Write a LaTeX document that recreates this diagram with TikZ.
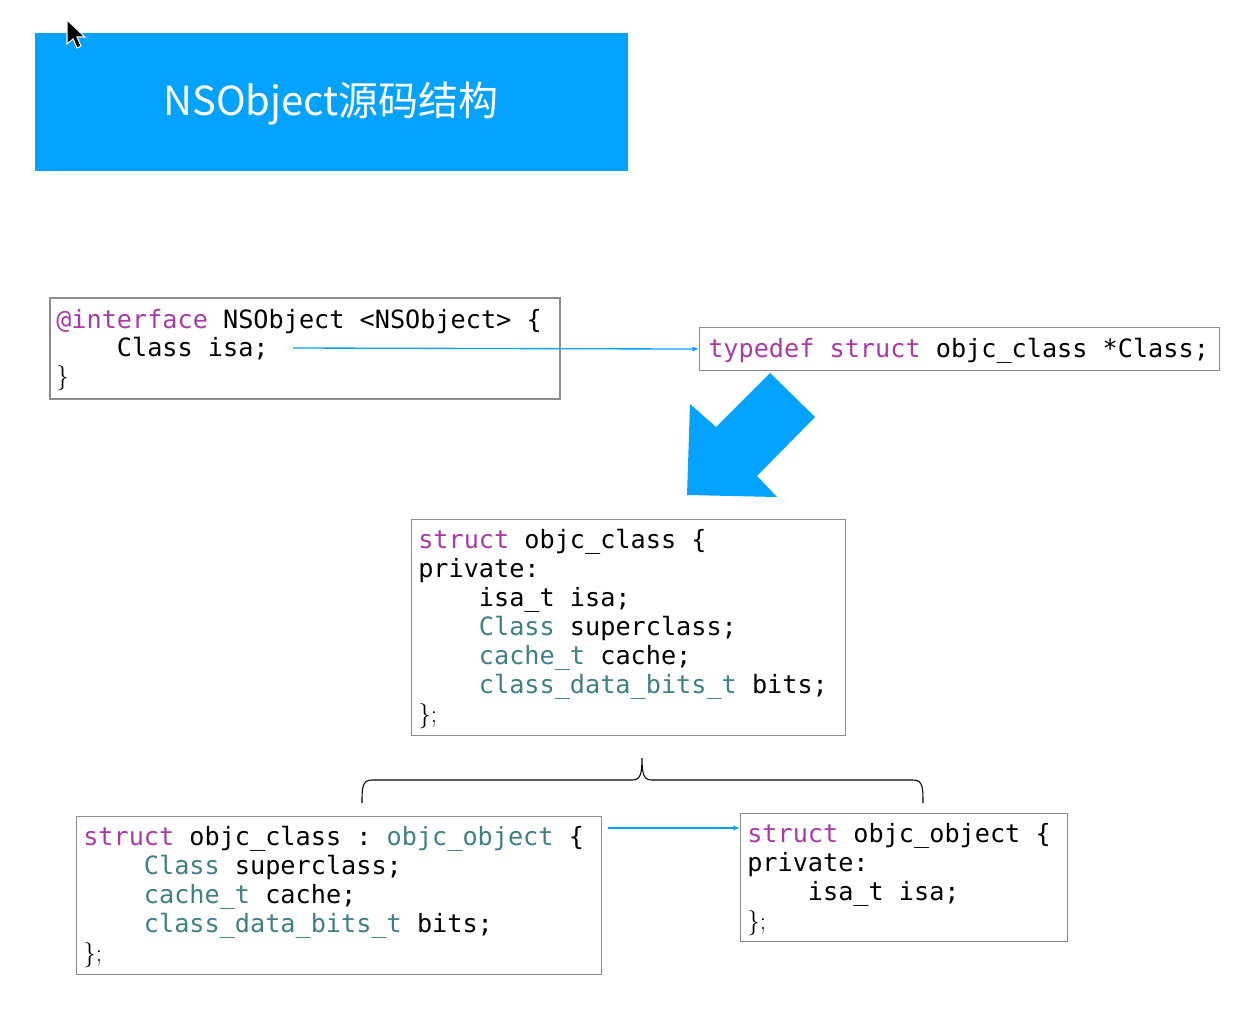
\documentclass[tikz,border=0pt]{standalone}
\usepackage{fontspec}
\setmonofont{DejaVu Sans Mono}
\newfontfamily\cjk{Noto Sans CJK SC}
\usetikzlibrary{arrows.meta}
\definecolor{kw}{HTML}{AA3AA5}
\definecolor{ty}{HTML}{3E8086}
\definecolor{ttl}{HTML}{03A2FE}
\newcommand{\kw}[1]{\textcolor{kw}{#1}}
\newcommand{\ty}[1]{\textcolor{ty}{#1}}
\newcommand{\ind}{\phantom{xxxx}}
\newcommand{\closeb}{{\rmfamily\};}}
\newcommand{\lines}[1]{\begin{tabular}[t]{@{}l@{}}#1\end{tabular}}
\begin{document}
\begin{tikzpicture}[x=0.75pt,y=-0.75pt,
  box/.style={draw=black!45,line width=0.8pt},
  code/.style={anchor=base west,inner sep=0pt,font=\ttfamily\fontsize{18.9}{21.8}\selectfont},
  conn/.style={draw=ttl,line width=1pt,-{Latex[length=5pt,width=4pt]}}]
\useasboundingbox (0,0) rectangle (1248,1010);
% title
\fill[ttl] (35,33) rectangle (628,171);
\node[text=white,font=\cjk\fontsize{30}{36}\selectfont] (title) at (331,104) {NSObject源码结构};
% cursor
\filldraw[fill=black,draw=white,line width=0.8pt] (67,20) -- (67,44) -- (73,39) -- (77,48) -- (81,46) -- (77,37) -- (85,37) -- cycle;
% boxes
\draw[box] (50,298) rectangle (560,399);
\node[box,minimum width=390pt,minimum height=32.25pt,anchor=north west] (B) at (699,327) {};
\node[box,minimum width=325.5pt,minimum height=162pt,anchor=north west] (C) at (411,519) {};
\node[box,minimum width=393.75pt,minimum height=118.5pt,anchor=north west] (D) at (76,816) {};
\node[box,minimum width=245.25pt,minimum height=96pt,anchor=north west] (E) at (740,813) {};
% texts
\node[code,font=\ttfamily\fontsize{18.9}{21.2}\selectfont] (tA) at (56,328) {\lines{\kw{@interface} NSObject <NSObject> \{\\\ind Class isa;\\\rmfamily\}}};
\node[code] (tB) at (708,357) {\kw{typedef} \kw{struct} objc\_class *Class;};
\node[code] (tC) at (418,548) {\lines{\kw{struct} objc\_class \{\\private:\\\ind isa\_t isa;\\\ind\ty{Class} superclass;\\\ind\ty{cache\_t} cache;\\\ind\ty{class\_data\_bits\_t} bits;\\\closeb}};
\node[code] (tD) at (83,845) {\lines{\kw{struct} objc\_class : \ty{objc\_object} \{\\\ind\ty{Class} superclass;\\\ind\ty{cache\_t} cache;\\\ind\ty{class\_data\_bits\_t} bits;\\\closeb}};
\node[code] (tE) at (747,842) {\lines{\kw{struct} objc\_object \{\\private:\\\ind isa\_t isa;\\\closeb}};
% connectors
\coordinate (a1) at (293,348);
\draw[conn] (a1) -- (B.west);
\coordinate (d1) at (608,828);
\coordinate (e1) at (740,828);
\draw[conn] (d1) -- (e1);
% big arrow
\fill[ttl] (687,495) -- (777,497) -- (757,476) -- (815,417) -- (770,373) -- (716,427) -- (690,404) -- cycle;
% brace
\draw[line width=0.8pt] (362,803) .. controls (362,788) and (362,780) .. (372,780) -- (632,780) .. controls (640,780) and (642,775) .. (642,758)
  .. controls (642,775) and (644,780) .. (652,780) -- (913,780) .. controls (923,780) and (923,788) .. (923,803);
\end{tikzpicture}
\end{document}
